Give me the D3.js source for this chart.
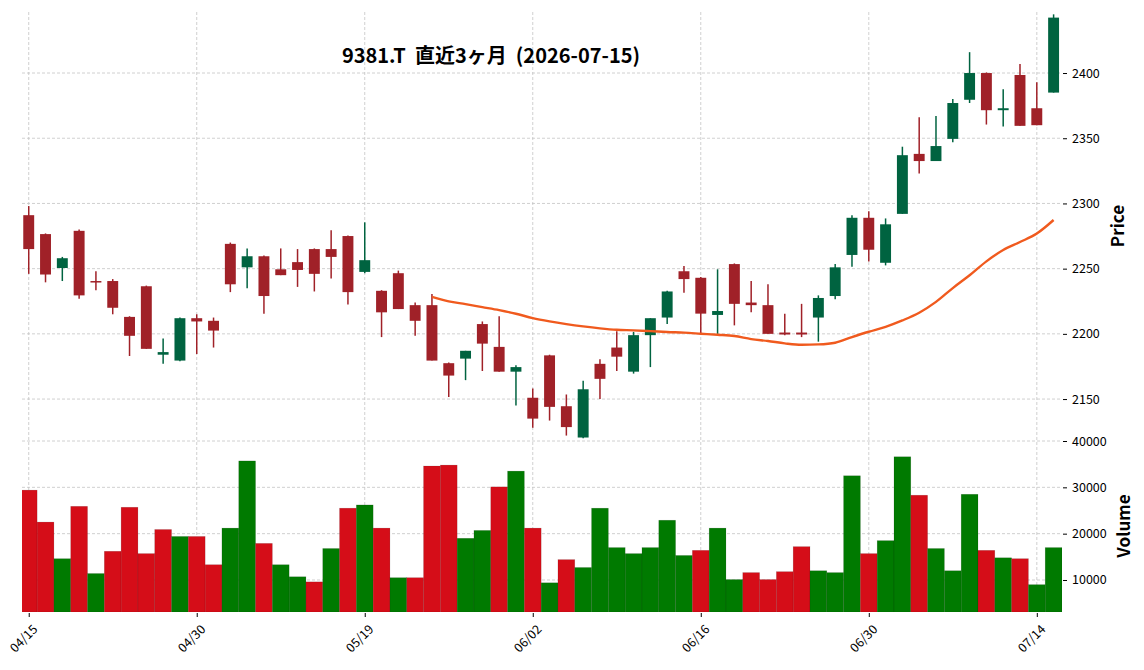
<!DOCTYPE html>
<html>
<head>
<meta charset="utf-8">
<script src="https://cdn.jsdelivr.net/npm/d3@7"></script>
<style>
  body { margin: 0; background: #fff; }
  text { font-family: "Noto Sans CJK JP", "Noto Sans", sans-serif; }
</style>
</head>
<body>
<svg class="chart"></svg>
<script>
const width = 1144;
const height = 670;

// data
const dates = ['04/15','04/16','04/17','04/20','04/21','04/22','04/23','04/24','04/27','04/28',
  '04/30','05/01','05/07','05/08','05/11','05/12','05/13','05/14','05/15','05/18',
  '05/19','05/20','05/21','05/22','05/25','05/26','05/27','05/28','05/29','06/01',
  '06/02','06/03','06/04','06/05','06/08','06/09','06/10','06/11','06/12','06/15',
  '06/16','06/17','06/18','06/19','06/22','06/23','06/24','06/25','06/26','06/29',
  '06/30','07/01','07/02','07/03','07/06','07/07','07/08','07/09','07/10','07/13',
  '07/14','07/15'];

const opens = [2291,2276.5,2250.5,2279,2240.5,2240.5,2213,2236.5,2184,2179.5,
  2212,2210,2269,2251,2259.5,2249.5,2255,2265,2265,2275,
  2247.5,2233,2246.5,2222,2222,2177.5,2181,2207.5,2190,2171,
  2151,2183.5,2144.5,2120.5,2177,2189.5,2171,2199,2212.5,2248,
  2243,2214.5,2253.5,2224,2222,2201,2201,2212.5,2229,2260.5,
  2289,2254.5,2292,2338,2332.5,2349.5,2379.5,2400,2371.5,2398.5,
  2373,2385];
const highs = [2298,2277,2259,2280,2248,2242,2213.5,2237,2196.5,2212.5,
  2215,2212.5,2270,2265.5,2260,2265.5,2265,2265.5,2279.5,2275.5,
  2285.5,2233.5,2248.5,2224,2230.5,2178,2187,2209.5,2213.5,2176,
  2158,2184,2153.5,2164,2180.5,2202,2201.5,2212,2233,2252,
  2243.5,2249.5,2254,2240.5,2238,2215.5,2223,2229.5,2253.5,2291,
  2294,2288.5,2343.5,2366,2367,2380,2416,2400.5,2387.5,2407,
  2393,2445];
const lows = [2246,2239.5,2240.5,2227,2233.5,2215,2183,2188.5,2177,2179,
  2184.5,2189.5,2232,2235,2215.5,2245,2236,2232.5,2242.5,2222.5,
  2246.5,2197.5,2219,2198.5,2179.5,2151.5,2164.5,2171.5,2171,2145,
  2128,2133.5,2122,2120,2150,2171.5,2169.5,2174.5,2207.5,2231.5,
  2200,2200,2206.5,2216.5,2200,2199,2197.5,2194,2226.5,2251.5,
  2255.5,2252.5,2292,2323,2332.5,2347,2377,2360.5,2359,2359.5,
  2360,2385];
const closes = [2265,2245.5,2258,2229.5,2240,2220,2198.5,2188.5,2186,2212,
  2209.5,2202.5,2238,2259.5,2229,2245,2249,2246,2259,2232,
  2256.5,2216.5,2219,2210,2179.5,2168,2187,2192.5,2171,2174.5,
  2135,2144,2128.5,2157.5,2165.5,2182.5,2199,2212,2232.5,2242,
  2215.5,2217.5,2223,2222,2200,2199.5,2199.5,2227.5,2251,2289,
  2264.5,2284,2337,2332.5,2344,2377,2400,2371.5,2373,2359.5,
  2360,2442.5];
const volumes = [29400,22500,14600,25900,11400,16200,25700,15700,20900,19400,
  19400,13300,21200,35700,17900,13300,10700,9600,16800,25500,
  26200,21200,10500,10500,34600,34800,19000,20700,30100,33500,
  21200,9400,14400,12700,25500,17000,15700,17000,22900,15300,
  16400,21200,10100,11600,10100,11800,17200,12000,11600,32500,
  15700,18500,36600,28300,16800,12000,28500,16400,14800,14600,
  9000,17000];
// moving average line, starts at the 25th session
const maValues = [null,null,null,null,null,null,null,null,null,null,
  null,null,null,null,null,null,null,null,null,null,
  null,null,null,null,2228.4,2224.9,2222.8,2220.5,2218.2,2215.4,
  2212.1,2209.6,2207.5,2205.7,2204.2,2203.1,2202.7,2202.1,2201.4,2200.9,
  2200.1,2199.3,2198.3,2196.0,2194.5,2192.7,2191.6,2191.9,2193.2,2197.5,
  2201.6,2205.4,2210.3,2216.2,2224.5,2235.1,2244.9,2255.6,2264.3,2270.4,
  2276.9,2287.3];

const priceTicks = [2150, 2200, 2250, 2300, 2350, 2400];
const volumeTicks = [10000, 20000, 30000, 40000];
const dateTicks = [0, 10, 20, 30, 40, 50, 60];

const titleText = '9381.T  直近3ヶ月  (2026-07-15)';

// colours
const candleUp = '#006340';
const candleDown = '#a02128';
const volUp = '#007a00';
const volDown = '#d50d18';
const maColor = '#f05a1e';
const gridColor = '#c4c4c4';

// layout
const left = 22, right = 1062;
const priceTop = 12, priceBottom = 440, volBottom = 612;

const svg = d3.select('.chart')
    .attr('width', width)
    .attr('height', height);

const data = dates.map((d, i) => ({
    i, date: d, open: opens[i], high: highs[i], low: lows[i],
    close: closes[i], volume: volumes[i], ma: maValues[i]
}));

// scales
const x = d3.scaleLinear()
    .domain([-0.4, 61.5])
    .range([left, right]);

const yPrice = d3.scaleLinear()
    .domain([2118.6, 2446.8])
    .range([priceBottom, priceTop]);

const yVol = d3.scaleLinear()
    .domain([3093, 40216])
    .range([volBottom, priceBottom]);

const step = x(1) - x(0);

// grid
const grid = svg.append('g')
    .attr('stroke', gridColor)
    .attr('stroke-width', 0.8)
    .attr('stroke-dasharray', '3,2');

grid.selectAll('.vgrid')
    .data(dateTicks).enter()
    .append('line')
    .attr('x1', d => x(d))
    .attr('x2', d => x(d))
    .attr('y1', priceTop)
    .attr('y2', volBottom);

grid.selectAll('.pgrid')
    .data(priceTicks).enter()
    .append('line')
    .attr('x1', left)
    .attr('x2', right)
    .attr('y1', d => yPrice(d))
    .attr('y2', d => yPrice(d));

grid.selectAll('.vgrid2')
    .data(volumeTicks).enter()
    .append('line')
    .attr('x1', left)
    .attr('x2', right)
    .attr('y1', d => yVol(d))
    .attr('y2', d => yVol(d));

// clip the plot area
svg.append('clipPath')
    .attr('id', 'plot-clip')
    .append('rect')
    .attr('x', left)
    .attr('y', priceTop)
    .attr('width', right - left)
    .attr('height', volBottom - priceTop);

// volume bars, coloured by close vs previous close
svg.append('g')
    .attr('clip-path', 'url(#plot-clip)')
    .selectAll('rect')
    .data(data).enter()
    .append('rect')
    .attr('x', d => x(d.i) - step / 2)
    .attr('width', step)
    .attr('y', d => yVol(d.volume))
    .attr('height', d => volBottom - yVol(d.volume))
    .attr('fill', d => {
        const prev = d.i > 0 ? closes[d.i - 1] : d.open;
        return d.close > prev ? volUp : volDown;
    })
    .attr('stroke', 'rgba(0,0,0,0.18)')
    .attr('stroke-width', 0.6);

// candles
const bodyW = step * 0.65;
const candles = svg.append('g')
    .selectAll('g')
    .data(data).enter()
    .append('g')
    .attr('fill', d => d.close >= d.open ? candleUp : candleDown)
    .attr('stroke', d => d.close >= d.open ? candleUp : candleDown);

candles.append('line')
    .attr('x1', d => x(d.i))
    .attr('x2', d => x(d.i))
    .attr('y1', d => yPrice(d.high))
    .attr('y2', d => yPrice(d.low))
    .attr('stroke-width', 1.5);

candles.append('rect')
    .attr('x', d => x(d.i) - bodyW / 2)
    .attr('width', bodyW)
    .attr('y', d => yPrice(Math.max(d.open, d.close)))
    .attr('height', d => Math.max(1.5, Math.abs(yPrice(d.open) - yPrice(d.close))))
    .attr('stroke', 'none');

// moving average
const maLine = d3.line()
    .defined(d => d.ma !== null)
    .x(d => x(d.i))
    .y(d => yPrice(d.ma))
    .curve(d3.curveMonotoneX);

svg.append('path')
    .datum(data)
    .attr('fill', 'none')
    .attr('stroke', maColor)
    .attr('stroke-width', 2.4)
    .attr('d', maLine);

// axes
const priceAxis = d3.axisRight(yPrice)
    .tickValues(priceTicks)
    .tickSize(4)
    .tickPadding(5)
    .tickFormat(d => String(d));

const volAxis = d3.axisRight(yVol)
    .tickValues(volumeTicks)
    .tickSize(4)
    .tickPadding(5)
    .tickFormat(d => String(d));

const dateAxis = d3.axisBottom(x)
    .tickValues(dateTicks)
    .tickSize(4)
    .tickFormat(d => dates[d]);

svg.append('g')
    .attr('transform', `translate(${right + 1},0)`)
    .call(priceAxis)
    .call(g => g.select('.domain').remove());

svg.append('g')
    .attr('transform', `translate(${right + 1},0)`)
    .call(volAxis)
    .call(g => g.select('.domain').remove());

const xg = svg.append('g')
    .attr('transform', `translate(0,${volBottom + 1})`)
    .call(dateAxis)
    .call(g => g.select('.domain').remove());

xg.selectAll('text')
    .attr('y', 0)
    .attr('dy', '0.35em')
    .attr('text-anchor', 'end')
    .attr('transform', 'translate(6,14) rotate(-45)');

svg.selectAll('.tick text')
    .attr('font-size', 12.5)
    .attr('font-family', '"DejaVu Sans", sans-serif')
    .attr('fill', '#000');

svg.selectAll('.tick line')
    .attr('stroke', '#000')
    .attr('stroke-width', 1);

// axis labels
svg.append('text')
    .attr('transform', `translate(1124,${(priceTop + priceBottom) / 2}) rotate(-90)`)
    .attr('text-anchor', 'middle')
    .attr('font-size', 17)
    .attr('font-weight', 'bold')
    .text('Price');

svg.append('text')
    .attr('transform', `translate(1130,${(priceBottom + volBottom) / 2}) rotate(-90)`)
    .attr('text-anchor', 'middle')
    .attr('font-size', 17)
    .attr('font-weight', 'bold')
    .text('Volume');

// title
svg.append('text')
    .attr('x', 491)
    .attr('y', 63)
    .attr('text-anchor', 'middle')
    .attr('font-size', 20)
    .attr('font-weight', 'bold')
    .style('white-space', 'pre')
    .text(titleText);
</script>
</body>
</html>
